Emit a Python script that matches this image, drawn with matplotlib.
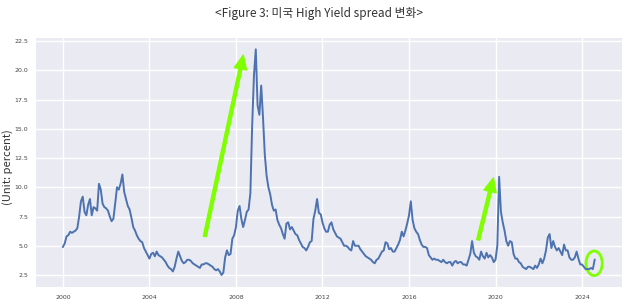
import numpy as np
import matplotlib.pyplot as plt
from matplotlib.patches import Ellipse

# monthly US high yield spread (percent), Jan 2000 .. Aug 2024
start_year = 2000
spread = [
    4.9, 5.2, 5.8, 5.9, 6.2, 6.1, 6.2, 6.3, 6.5, 7.5, 8.8, 9.2,   # 2000
    7.9, 7.6, 8.5, 9.0, 7.6, 8.3, 8.2, 8.0, 10.3, 9.8, 8.6, 8.3,  # 2001
    8.2, 8.0, 7.5, 7.1, 7.3, 8.6, 10.0, 9.8, 10.3, 11.1, 9.6, 9.0,  # 2002
    8.4, 8.1, 7.4, 6.6, 6.3, 5.9, 5.6, 5.4, 5.3, 4.8, 4.5, 4.2,   # 2003
    3.9, 4.3, 4.4, 4.1, 4.5, 4.2, 4.1, 4.0, 3.8, 3.6, 3.3, 3.1,   # 2004
    3.0, 2.8, 3.2, 3.9, 4.5, 4.1, 3.7, 3.5, 3.6, 3.8, 3.8, 3.7,   # 2005
    3.5, 3.4, 3.3, 3.2, 3.1, 3.4, 3.4, 3.5, 3.5, 3.4, 3.3, 3.2,   # 2006
    3.0, 2.9, 3.0, 2.8, 2.5, 2.7, 4.0, 4.6, 4.2, 4.3, 5.6, 5.9,   # 2007
    6.6, 8.0, 8.4, 7.3, 6.6, 7.2, 7.9, 8.1, 9.5, 15.3, 19.6, 21.8,  # 2008
    17.0, 16.2, 18.7, 16.0, 12.8, 11.0, 10.0, 9.4, 8.5, 8.0, 8.1, 7.2,  # 2009
    6.8, 6.5, 6.0, 5.6, 6.9, 7.0, 6.4, 6.6, 6.3, 6.0, 5.9, 5.5,   # 2010
    5.2, 4.9, 4.8, 4.6, 4.9, 5.3, 5.4, 7.3, 8.0, 9.0, 7.8, 7.7,   # 2011
    7.0, 6.5, 6.2, 6.2, 6.8, 7.0, 6.4, 6.1, 5.8, 5.7, 5.6, 5.3,   # 2012
    5.0, 5.0, 4.9, 4.7, 4.6, 5.4, 5.0, 5.0, 5.0, 4.7, 4.5, 4.3,   # 2013
    4.1, 4.0, 3.9, 3.8, 3.6, 3.5, 3.8, 3.9, 4.2, 4.5, 4.6, 5.3,   # 2014
    5.2, 4.7, 4.8, 4.5, 4.5, 4.8, 5.1, 5.5, 6.2, 5.8, 6.3, 6.9,   # 2015
    7.6, 8.8, 7.2, 6.5, 6.2, 6.0, 5.5, 5.1, 4.9, 4.9, 4.8, 4.2,   # 2016
    4.0, 3.8, 3.9, 3.8, 3.8, 3.7, 3.6, 3.8, 3.6, 3.5, 3.6, 3.6,   # 2017
    3.3, 3.6, 3.7, 3.5, 3.6, 3.6, 3.4, 3.4, 3.3, 3.8, 4.3, 5.4,   # 2018
    4.4, 4.1, 4.0, 3.8, 4.5, 4.1, 3.9, 4.4, 4.0, 4.2, 4.0, 3.6,   # 2019
    3.8, 5.0, 10.9, 7.9, 7.0, 6.3, 5.4, 5.0, 5.4, 5.3, 4.3, 3.9,  # 2020
    3.9, 3.6, 3.5, 3.2, 3.1, 3.0, 3.2, 3.2, 3.1, 3.0, 3.3, 3.1,   # 2021
    3.4, 3.9, 3.5, 3.9, 4.6, 5.7, 6.0, 4.8, 5.4, 4.9, 4.6, 4.8,   # 2022
    4.5, 4.2, 5.1, 4.6, 4.6, 4.0, 3.8, 3.8, 4.0, 4.5, 3.9, 3.4,   # 2023
    3.4, 3.2, 3.0, 3.0, 3.0, 3.1, 3.0, 3.8,                       # 2024
]
years = start_year + np.arange(len(spread)) / 12

year_ticks = [2000, 2004, 2008, 2012, 2016, 2020, 2024]
value_ticks = [2.5, 5.0, 7.5, 10.0, 12.5, 15.0, 17.5, 20.0, 22.5]

# green highlights (data coordinates)
arrows = [((2006.56, 5.8), (2008.34, 21.3)), ((2019.2, 5.5), (2019.9, 10.8))]
circle_center = (2024.56, 3.5)

green = '#7FFF00'

fig = plt.figure(figsize=(6.26, 3.05), dpi=100)
ax = fig.add_axes([0.058, 0.059, 0.935, 0.816])
ax.set_facecolor('#EAEAF2')
for s in ax.spines.values():
    s.set_visible(False)
ax.grid(True, color='white', linewidth=1.0)
ax.set_axisbelow(True)

ax.plot(years, spread, color='#4C72B0', linewidth=1.4)

for tail, head in arrows:
    ax.annotate('', xy=head, xytext=tail,
                arrowprops=dict(facecolor=green, edgecolor=green, width=2.2,
                                headwidth=9, headlength=10, shrink=0))
ax.add_patch(Ellipse(circle_center, 0.75, 2.1, fill=False, edgecolor=green, linewidth=2))

ax.set_xlim(1998.77, 2025.83)
ax.set_ylim(1.47, 22.76)
ax.set_xticks(year_ticks)
ax.set_xticklabels([str(y) for y in year_ticks])
ax.set_yticks(value_ticks)
ax.tick_params(length=0, labelsize=4.5, labelcolor='#444444', pad=6)
ax.set_ylabel('(Unit: percent)', fontsize=8, color='#333333',
              family=['Noto Sans CJK KR', 'DejaVu Sans'])
ax.yaxis.set_label_coords(-0.04, 0.48)

fig.text(0.51, 0.955, '<Figure 3: 미국 High Yield spread 변화>', ha='center', va='center',
         fontsize=8.5, color='#333333', family=['Noto Sans CJK KR', 'DejaVu Sans'])

fig.savefig('out.png', dpi=100)
